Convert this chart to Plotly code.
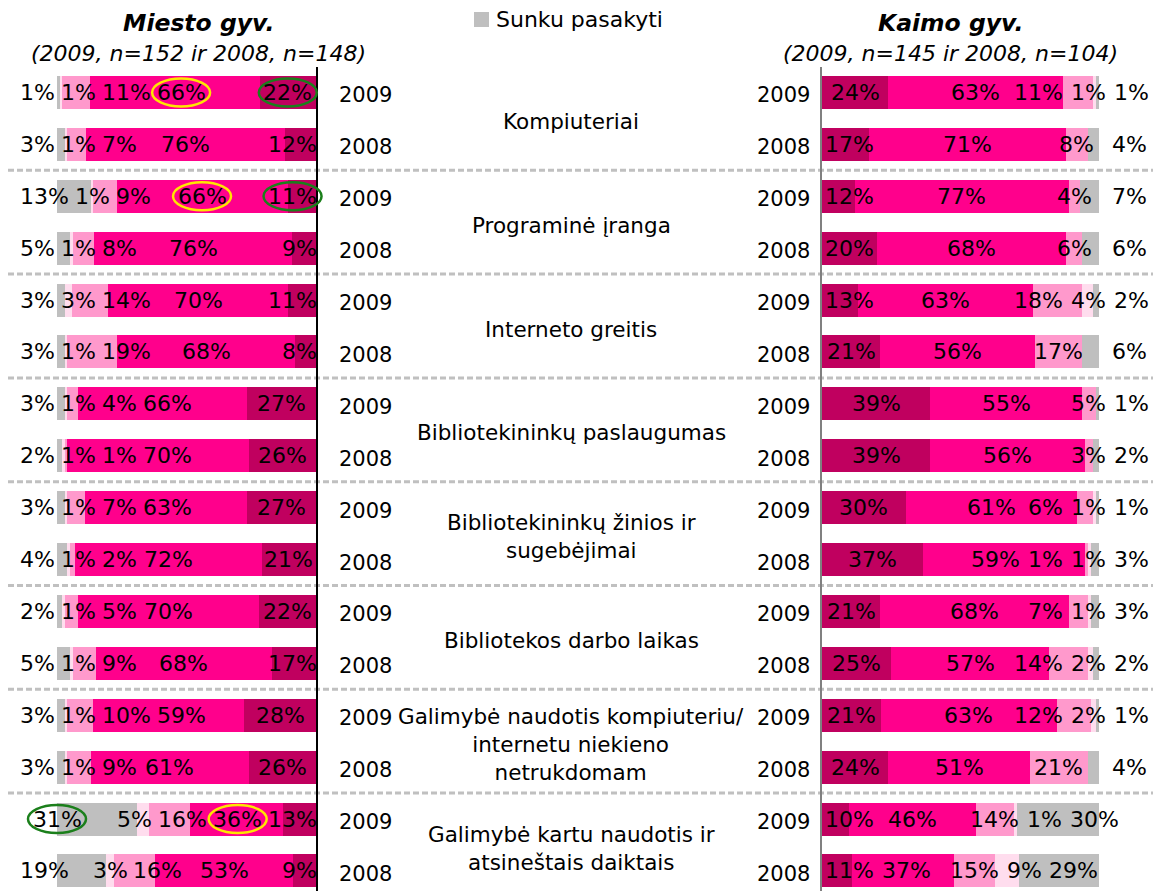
import plotly.graph_objects as go

# ---------------- data ----------------
categories = [
    "Kompiuteriai",
    "Programinė įranga",
    "Interneto greitis",
    "Bibliotekininkų paslaugumas",
    "Bibliotekininkų žinios ir<br>sugebėjimai",
    "Bibliotekos darbo laikas",
    "Galimybė naudotis kompiuteriu/<br>internetu niekieno<br>netrukdomam",
    "Galimybė kartu naudotis ir<br>atsineštais daiktais",
]
years = ["2009", "2008"]
series_names = ["Labai patenkinti", "Greičiau patenkinti", "Greičiau nepatenkinti",
                "Visiškai nepatenkinti", "Sunku pasakyti"]

# Miesto gyv. (rows: each category 2009 then 2008)
miesto_labai = [22, 12, 11, 9, 11, 8, 27, 26, 27, 21, 22, 17, 28, 26, 13, 9]
miesto_patenk = [66, 76, 66, 76, 70, 68, 66, 70, 63, 72, 70, 68, 59, 61, 36, 53]
miesto_nepat = [11, 7, 9, 8, 14, 19, 4, 1, 7, 2, 5, 9, 10, 9, 16, 16]
miesto_visisk = [1, 1, 1, 1, 3, 1, 1, 1, 1, 1, 1, 1, 1, 1, 5, 3]
miesto_sunku = [1, 3, 13, 5, 3, 3, 3, 2, 3, 4, 2, 5, 3, 3, 31, 19]

# Kaimo gyv.
kaimo_labai = [24, 17, 12, 20, 13, 21, 39, 39, 30, 37, 21, 25, 21, 24, 10, 11]
kaimo_patenk = [63, 71, 77, 68, 63, 56, 55, 56, 61, 59, 68, 57, 63, 51, 46, 37]
kaimo_nepat = [11, 8, 4, 6, 18, 17, 5, 3, 6, 1, 7, 14, 12, 21, 14, 15]
kaimo_visisk = [1, 0, 0, 0, 4, 0, 0, 0, 1, 1, 1, 2, 2, 0, 1, 9]
kaimo_sunku = [1, 4, 7, 6, 2, 6, 1, 2, 1, 3, 3, 2, 1, 4, 30, 29]

# highlighted labels: (row, series index, colour)
highlights = [(0, 1, "#FFE600"), (0, 0, "#1B7F1B"), (2, 1, "#FFE600"), (2, 0, "#1B7F1B"),
              (14, 4, "#1B7F1B"), (14, 1, "#FFE600")]

# ---------------- style / geometry ----------------
W, H = 1164, 891
OFF = 8  # page body margin offset (page px = figure px + OFF)
colors = ["#C0005F", "#FF008C", "#FF99CC", "#FFDDEE", "#BFBFBF"]
FONT = "DejaVu Sans"
FS = 21.5      # category text
FSP = 22       # percentage labels
GAP = {"L": 6.0, "R": 8.0}
L_X0, L_X1 = 57.0, 316.0
R_X0, R_X1 = 822.0, 1099.0
TOP = 66.5
PITCH = 51.9
n_rows = len(categories) * 2
rows = list(range(n_rows))
y_bottom = -0.5 + (H - (TOP - OFF)) / PITCH


def fx(px):
    return (px - OFF) / W


def fy(py):
    return 1 - (py - OFF) / H


miesto = [miesto_labai, miesto_patenk, miesto_nepat, miesto_visisk, miesto_sunku]
kaimo = [kaimo_labai, kaimo_patenk, kaimo_nepat, kaimo_visisk, kaimo_sunku]

fig = go.Figure()
for j, name in enumerate(series_names):
    fig.add_trace(go.Bar(y=rows, x=miesto[j], orientation="h", name=name,
                         marker=dict(color=colors[j], line=dict(width=0)),
                         xaxis="x", yaxis="y", showlegend=False,
                         hoverinfo="x+name"))
for j, name in enumerate(series_names):
    fig.add_trace(go.Bar(y=rows, x=kaimo[j], orientation="h", name=name,
                         marker=dict(color=colors[j], line=dict(width=0)),
                         xaxis="x2", yaxis="y2", showlegend=False,
                         hoverinfo="x+name"))


def text_w(s):
    return sum(0.636 * FSP if ch.isdigit() else 0.95 * FSP for ch in s)


def px_of(panel, pct):
    if panel == "L":
        return L_X1 - pct / 100.0 * (L_X1 - L_X0)
    return R_X0 + pct / 100.0 * (R_X1 - R_X0)


annotations = []
shapes = []
label_pos = {}


def place(panel, data):
    xref = "x" if panel == "L" else "x2"
    yref = "y" if panel == "L" else "y2"
    gap = GAP[panel]
    for r in rows:
        vals = [data[j][r] for j in range(5)]
        tot = float(sum(vals))
        cum = 0.0
        segs = {}
        for j in range(5):
            start = cum / tot * 100
            cum += vals[j]
            segs[j] = (start, cum / tot * 100)
        order = [4, 3, 2, 1, 0] if panel == "L" else [0, 1, 2, 3, 4]
        items = []
        for j in order:
            v = vals[j]
            if v <= 0:
                continue
            s, e = segs[j]
            mid = (s + e) / 2
            cpx = px_of(panel, mid)
            txt = f"{v}%"
            w = text_w(txt)
            c = cpx
            if panel == "L" and j == 4:
                c = L_X0 if v >= 25 else (L_X0 - 37 + w / 2)
            if panel == "R" and j == 0:
                c = max(c, R_X0 + w / 2 + 3)
            if panel == "R" and j == 4 and v < 10:
                c = R_X1 + 13 + w / 2
            items.append([j, mid, cpx, c, w, txt])
        # forward pass: avoid overlaps
        prev_right = -1e9
        for it in items:
            it[3] = max(it[3], prev_right + gap + it[4] / 2)
            prev_right = it[3] + it[4] / 2
        # clamp right end, then backward pass
        if panel == "L":
            limit = L_X1 + 1
            first = 1 if items and items[0][0] == 4 else 0
        else:
            limit = 1149
            first = 0
        items[-1][3] = min(items[-1][3], limit - items[-1][4] / 2)
        for k in range(len(items) - 2, first - 1, -1):
            items[k][3] = min(items[k][3],
                              items[k + 1][3] - (items[k][4] + items[k + 1][4]) / 2 - gap)
        for j, mid, cpx, c, w, txt in items:
            shift = c - cpx
            label_pos[(panel, r, j)] = c
            annotations.append(dict(x=mid, y=r, xref=xref, yref=yref, text=txt,
                                    showarrow=False, xshift=shift, xanchor="center",
                                    yanchor="middle",
                                    font=dict(family=FONT, size=FSP, color="#000000")))


place("L", miesto)
place("R", kaimo)

# highlight ellipses around labels
for r, j, col in highlights:
    c = label_pos[("L", r, j)]
    shapes.append(dict(type="circle", xref="paper", yref="y",
                       ysizemode="pixel", yanchor=r,
                       x0=fx(c - 29), x1=fx(c + 29), y0=-14, y1=14,
                       line=dict(color=col, width=2.5)))

# dashed separators between categories
for g in range(len(categories) - 1):
    yy = 2 * g + 1.5
    shapes.append(dict(type="line", xref="paper", yref="y", x0=fx(8), x1=fx(1153),
                       y0=yy, y1=yy, layer="below",
                       line=dict(color="#C0C0C0", width=3, dash="6px,3px")))

# year labels and category labels
for g, cat in enumerate(categories):
    for k, yr in enumerate(years):
        r = 2 * g + k
        annotations.append(dict(x=fx(337), y=r, xref="paper", yref="y", text=yr,
                                showarrow=False, xanchor="left", yanchor="middle",
                                yshift=-3, font=dict(family=FONT, size=21, color="#000000")))
        annotations.append(dict(x=fx(812), y=r, xref="paper", yref="y", text=yr,
                                showarrow=False, xanchor="right", yanchor="middle",
                                yshift=-3, font=dict(family=FONT, size=21, color="#000000")))
    annotations.append(dict(x=fx(571), y=2 * g + 0.5, xref="paper", yref="y", text=cat,
                            showarrow=False, xanchor="center", yanchor="middle",
                            align="center", yshift=-3,
                            font=dict(family=FONT, size=FS, color="#000000")))

# panel titles
for xc, t, sub in [(198, "Miesto gyv.", "(2009, n=152 ir 2008, n=148)"),
                   (950, "Kaimo gyv.", "(2009, n=145 ir 2008, n=104)")]:
    annotations.append(dict(x=fx(xc), y=fy(23), xref="paper", yref="paper",
                            text=f"<b><i>{t}</i></b>", showarrow=False,
                            xanchor="center", yanchor="middle",
                            font=dict(family=FONT, size=23.5, color="#000000")))
    annotations.append(dict(x=fx(xc), y=fy(54), xref="paper", yref="paper",
                            text=f"<i>{sub}</i>", showarrow=False,
                            xanchor="center", yanchor="middle",
                            font=dict(family=FONT, size=22, color="#000000")))

# legend entry (visible part): grey square + text
shapes.append(dict(type="rect", xref="paper", yref="paper", x0=fx(474), x1=fx(489),
                   y0=fy(27), y1=fy(12), fillcolor=colors[4], line=dict(width=0)))
annotations.append(dict(x=fx(494), y=fy(19), xref="paper", yref="paper",
                        text=series_names[4], showarrow=False, xanchor="left",
                        yanchor="middle", font=dict(family=FONT, size=22, color="#000000")))

fig.update_layout(
    width=W, height=H, autosize=False,
    margin=dict(l=0, r=0, t=0, b=0, pad=0),
    paper_bgcolor="white", plot_bgcolor="white",
    barmode="stack", barnorm="percent", bargap=0.364,
    showlegend=False,
    font=dict(family=FONT, size=FS, color="#000000"),
    xaxis=dict(domain=[fx(L_X0), fx(L_X1)], range=[100, 0], showgrid=False,
               zeroline=False, showticklabels=False, showline=False, fixedrange=True),
    xaxis2=dict(domain=[fx(R_X0), fx(R_X1)], range=[0, 100], showgrid=False,
                zeroline=False, showticklabels=False, showline=False, fixedrange=True),
    yaxis=dict(domain=[0, fy(TOP)], range=[y_bottom, -0.5], anchor="x", side="right",
               showline=True, linecolor="#000000", linewidth=1.5, showgrid=False,
               zeroline=False, showticklabels=False, ticks="", fixedrange=True),
    yaxis2=dict(domain=[0, fy(TOP)], range=[y_bottom, -0.5], anchor="x2", side="left",
                showline=True, linecolor="#808080", linewidth=1.5, showgrid=False,
                zeroline=False, showticklabels=False, ticks="", fixedrange=True),
    annotations=annotations,
    shapes=shapes,
)

fig.write_html("out.html")
